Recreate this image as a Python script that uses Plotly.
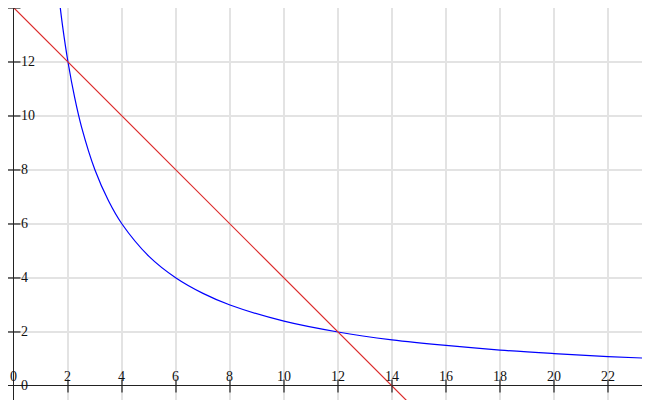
import plotly.graph_objects as go

# values
curve_x = [1.65, 1.8, 2, 2.25, 2.5, 3, 3.5, 4, 5, 6, 7, 8, 10, 12, 14, 16, 18, 20, 22, 23.6]
curve_y = [14.55, 13.33, 12, 10.67, 9.6, 8, 6.86, 6, 4.8, 4, 3.43, 3, 2.4, 2, 1.71, 1.5, 1.33, 1.2, 1.09, 1.02]
line_x = [-0.6, 14.6]
line_y = [14.6, -0.6]
x_ticks = [0, 2, 4, 6, 8, 10, 12, 14, 16, 18, 20, 22]
y_ticks = [0, 2, 4, 6, 8, 10, 12]

serif = "Liberation Serif, DejaVu Serif, serif"

fig = go.Figure()
fig.add_trace(go.Scatter(x=curve_x, y=curve_y, mode="lines",
                         line=dict(color="#0000ff", width=1.2, shape="spline"),
                         hoverinfo="skip"))
fig.add_trace(go.Scatter(x=line_x, y=line_y, mode="lines",
                         line=dict(color="#dc2a2a", width=1.2),
                         hoverinfo="skip"))

# tick marks crossing the axes
tick_len = 0.24
shapes = []
for v in x_ticks[1:]:
    shapes.append(dict(type="line", xref="x", yref="y", x0=v, x1=v,
                       y0=-tick_len, y1=tick_len, line=dict(color="#222", width=1.2)))
for v in y_ticks[1:] + [14]:
    shapes.append(dict(type="line", xref="x", yref="y", y0=v, y1=v,
                       x0=-tick_len, x1=tick_len, line=dict(color="#222", width=1.2)))

annotations = []
for v in x_ticks:
    annotations.append(dict(x=v, y=0, text=str(v), showarrow=False,
                            xanchor="center", yanchor="bottom", yshift=0,
                            font=dict(family=serif, size=14, color="#111")))
for v in y_ticks:
    annotations.append(dict(x=0, y=v, text=str(v), showarrow=False,
                            xanchor="left", yanchor="middle", xshift=5,
                            font=dict(family=serif, size=14, color="#111")))

# page body keeps an 8px margin, so the figure is a bit smaller
fig.update_layout(
    width=642, height=392,
    margin=dict(l=0, r=0, t=0, b=0),
    plot_bgcolor="white", paper_bgcolor="white",
    showlegend=False,
    shapes=shapes, annotations=annotations,
    xaxis=dict(range=[-0.222, 23.556], dtick=2, tick0=0, showgrid=True,
               gridcolor="#e3e3e3", gridwidth=1.6, showticklabels=False,
               zeroline=True, zerolinecolor="#222", zerolinewidth=1.4,
               fixedrange=True),
    yaxis=dict(range=[-0.52, 14.0], dtick=2, tick0=0, showgrid=True,
               gridcolor="#e3e3e3", gridwidth=1.6, showticklabels=False,
               zeroline=True, zerolinecolor="#222", zerolinewidth=1.4,
               fixedrange=True),
)

fig.write_html("out.html")
